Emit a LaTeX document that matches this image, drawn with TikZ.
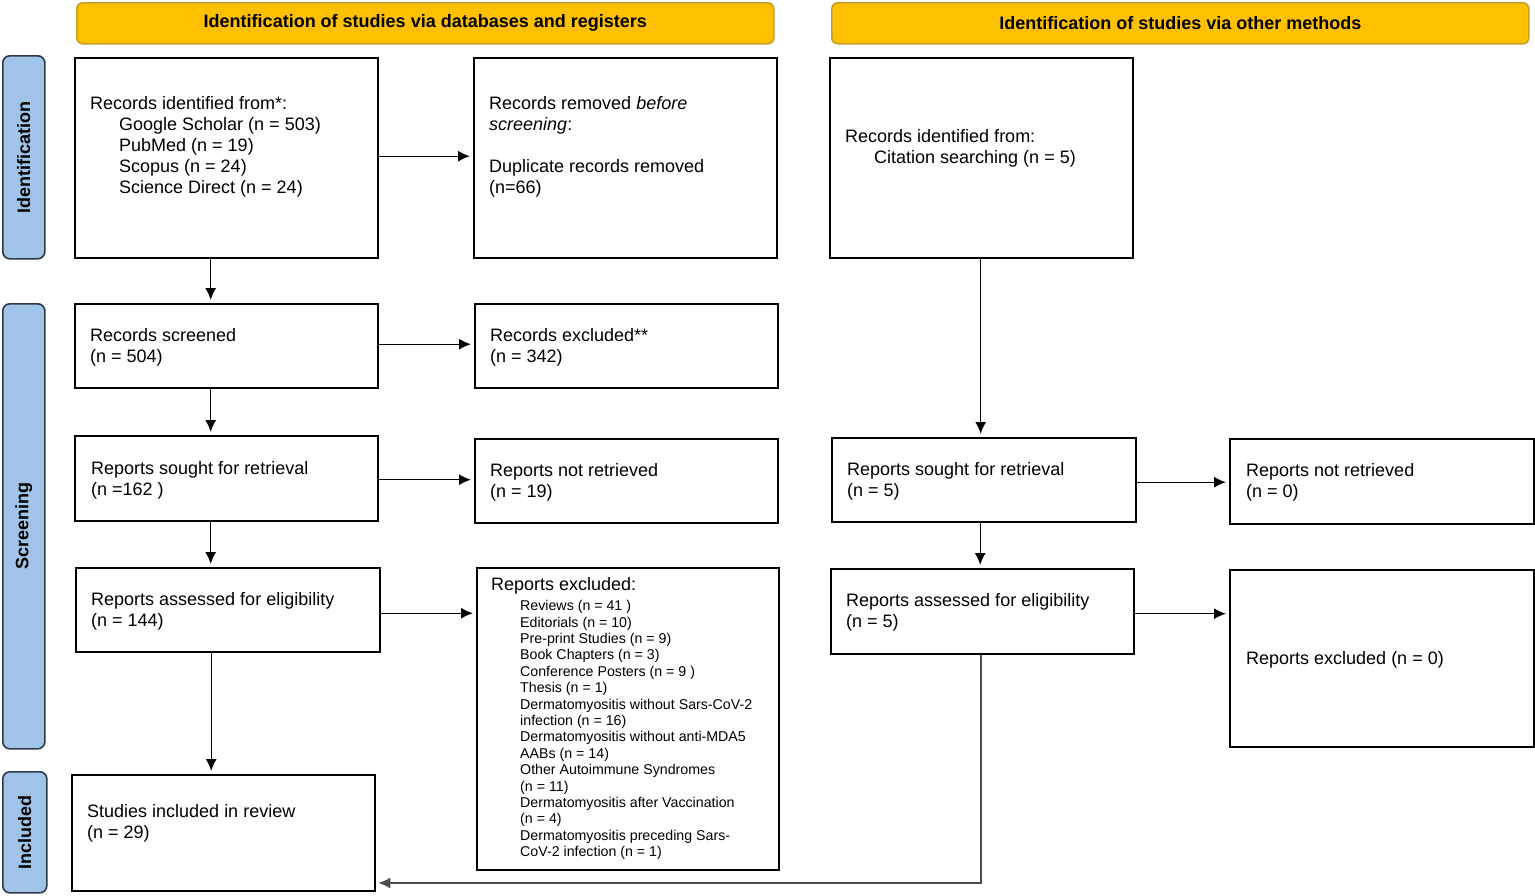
\documentclass[tikz,border=0pt]{standalone}
\usepackage{fontspec}
\setmainfont{Liberation Sans}
\usetikzlibrary{arrows.meta}
\definecolor{hdrfill}{RGB}{255,192,0}
\definecolor{hdrdraw}{RGB}{200,160,40}
\definecolor{sidefill}{RGB}{160,196,232}
\definecolor{sidedraw}{RGB}{45,55,75}
\tikzset{
  box/.style={draw=black, line width=2.4pt, inner sep=0pt, anchor=north west},
  txt/.style={align=left, inner sep=0pt, anchor=west, font=\fontsize{18}{21}\selectfont},
  small/.style={align=left, inner sep=0pt, anchor=west, font=\fontsize{14.2}{16.4}\selectfont},
  hdr/.style={draw=hdrdraw, fill=hdrfill, line width=1.6pt, rounded corners=6pt, inner sep=0pt, anchor=north west, font=\bfseries\fontsize{18}{21}\selectfont},
  side/.style={draw=sidedraw, fill=sidefill, line width=1.6pt, rounded corners=7pt, inner sep=0pt, anchor=north west},
  sidetxt/.style={rotate=90, font=\bfseries\fontsize{18}{21}\selectfont, inner sep=0pt},
  arr/.style={line width=1.4pt, shorten >=3pt, -{Latex[length=12pt,width=11pt]}},
  arrg/.style={line width=1.4pt, draw=black!70, shorten >=2pt, -{Latex[length=12pt,width=11pt]}}
}
\begin{document}
\begin{tikzpicture}[x=1pt,y=-1pt]
\useasboundingbox (0,0) rectangle (1535,895);

% headers
\node[hdr, minimum width=697, minimum height=41] (h1) at (76,2) {Identification of studies via databases and registers};
\node[hdr, minimum width=697, minimum height=41] (h2) at (831,2) {Identification of studies via other methods};

% side bars
\node[side, minimum width=42, minimum height=203] (s1) at (2,55) {};
\node[sidetxt] (s1t) at (s1.center) {Identification};
\node[side, minimum width=42, minimum height=445] (s2) at (2,303) {};
\node[sidetxt] (s2t) at (s2.center) {Screening};
\node[side, minimum width=44, minimum height=121] (s3) at (2,771) {};
\node[sidetxt] (s3t) at (s3.center) {Included};

% boxes
\node[box, minimum width=303, minimum height=200] (A) at (74,57) {};
\node[box, minimum width=303, minimum height=200] (B) at (473,57) {};
\node[box, minimum width=303, minimum height=200] (C) at (829,57) {};
\node[box, minimum width=303, minimum height=84] (D) at (74,303) {};
\node[box, minimum width=303, minimum height=84] (E) at (474,303) {};
\node[box, minimum width=303, minimum height=85] (F) at (74,435) {};
\node[box, minimum width=303, minimum height=84] (G) at (474,438) {};
\node[box, minimum width=304, minimum height=84] (H) at (75,567) {};
\node[box, minimum width=302, minimum height=302] (I) at (476,567) {};
\node[box, minimum width=303, minimum height=116] (J) at (71,774) {};
\node[box, minimum width=304, minimum height=84] (K) at (831,437) {};
\node[box, minimum width=304, minimum height=85] (L) at (1229,438) {};
\node[box, minimum width=303, minimum height=85] (M) at (830,568) {};
\node[box, minimum width=304, minimum height=177] (N) at (1229,569) {};

% texts
\node[txt] (At) at (90,147) {Records identified from*:\\\hspace*{29pt}Google Scholar (n = 503)\\\hspace*{29pt}PubMed (n = 19)\\\hspace*{29pt}Scopus (n = 24)\\\hspace*{29pt}Science Direct (n = 24)};
\node[txt] (Bt) at (489,147) {Records removed \textit{before}\\\textit{screening}:\\\strut\\Duplicate records removed\\(n=66)};
\node[txt] (Ct) at (845,148) {Records identified from:\\\hspace*{29pt}Citation searching (n = 5)};
\node[txt] (Dt) at (90,347) {Records screened\\(n = 504)};
\node[txt] (Et) at (490,347) {Records excluded**\\(n = 342)};
\node[txt] (Ft) at (91,480) {Reports sought for retrieval\\(n =162 )};
\node[txt] (Gt) at (490,482) {Reports not retrieved\\(n = 19)};
\node[txt] (Ht) at (91,611) {Reports assessed for eligibility\\(n = 144)};
\node[txt] (Iht) at (491,586) {Reports excluded:};
\node[small] (It) at (520,730) {Reviews (n = 41 )\\Editorials (n = 10)\\Pre-print Studies (n = 9)\\Book Chapters (n = 3)\\Conference Posters (n = 9 )\\Thesis (n = 1)\\Dermatomyositis without Sars-CoV-2\\infection (n = 16)\\Dermatomyositis without anti-MDA5\\AABs (n = 14)\\Other Autoimmune Syndromes\\(n = 11)\\Dermatomyositis after Vaccination\\(n = 4)\\Dermatomyositis preceding Sars-\\CoV-2 infection (n = 1)};
\node[txt] (Jt) at (87,823) {Studies included in review\\(n = 29)};
\node[txt] (Kt) at (847,481) {Reports sought for retrieval\\(n = 5)};
\node[txt] (Lt) at (1246,482) {Reports not retrieved\\(n = 0)};
\node[txt] (Mt) at (846,612) {Reports assessed for eligibility\\(n = 5)};
\node[txt] (Nt) at (1246,660) {Reports excluded (n = 0)};

% connectors
\draw[arr] ([yshift=2pt]A.east) -- ([yshift=2pt]A.east -| B.west);
\draw[arr] ([xshift=-16pt]A.south) -- ([xshift=-16pt]A.south |- D.north);
\draw[arr] ([yshift=2pt]D.east) -- ([yshift=2pt]D.east -| E.west);
\draw[arr] ([xshift=-16pt]D.south) -- ([xshift=-16pt]D.south |- F.north);
\draw[arr] ([yshift=-1pt]F.east) -- ([yshift=-1pt]F.east -| G.west);
\draw[arr] ([xshift=-16pt]F.south) -- ([xshift=-16pt]F.south |- H.north);
\draw[arr] ([yshift=-3pt]H.east) -- ([yshift=-3pt]H.east -| I.west);
\draw[arr] ([xshift=-17pt]H.south) -- ([xshift=-17pt]H.south |- J.north);
\draw[arr] ([xshift=-1pt]C.south) -- ([xshift=-1pt]C.south |- K.north);
\draw[arr] ([yshift=-2pt]K.east) -- ([yshift=-2pt]K.east -| L.west);
\draw[arr] ([xshift=-4pt]K.south) -- ([xshift=-4pt]K.south |- M.north);
\draw[arr] ([yshift=-2pt]M.east) -- ([yshift=-2pt]M.east -| N.west);
\coordinate (mj) at (981,883);
\draw[arrg] (M.south -| mj) -- (mj) -- (mj -| J.east);
\end{tikzpicture}
\end{document}
